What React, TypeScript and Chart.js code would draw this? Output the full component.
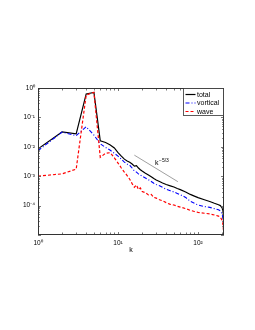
import React, { useEffect, useRef } from 'react';
import { Chart, registerables } from 'chart.js';

Chart.register(...registerables);

const kValues = [1, 2, 3, 4, 5, 6, 7, 8, 9, 10, 11, 12, 13, 14, 15, 16, 17, 18, 19, 20, 22, 24, 26, 28, 30, 33, 36, 40, 45, 50, 55, 60, 70, 80, 90, 100, 120, 140, 160, 180, 190, 200, 205, 208, 211];

const totalValues = [8.5e-3, 3.2e-2, 2.75e-2, 0.63, 0.71, 1.6e-2, 1.4e-2, 1.15e-2, 9.1e-3, 6.3e-3, 4.8e-3, 3.8e-3, 3.3e-3, 3.0e-3, 2.6e-3, 2.2e-3, 2.3e-3, 1.9e-3, 1.66e-3, 1.5e-3, 1.26e-3, 1.1e-3, 9.5e-4, 8.3e-4, 7.4e-4, 6.6e-4, 5.9e-4, 5.2e-4, 4.7e-4, 4.3e-4, 3.8e-4, 3.5e-4, 2.9e-4, 2.4e-4, 2.1e-4, 1.86e-4, 1.58e-4, 1.38e-4, 1.2e-4, 1.07e-4, 1.0e-4, 8.3e-5, 6.3e-5, 4.5e-5, 2.5e-5];

const vorticalValues = [7.4e-3, 3.16e-2, 2.4e-2, 4.8e-2, 2.5e-2, 1.26e-2, 9.5e-3, 7.6e-3, 6.0e-3, 4.8e-3, 3.8e-3, 3.0e-3, 2.6e-3, 2.35e-3, 1.9e-3, 1.5e-3, 1.38e-3, 1.2e-3, 1.1e-3, 1.0e-3, 8.7e-4, 7.6e-4, 6.6e-4, 5.75e-4, 5.2e-4, 4.7e-4, 4.2e-4, 3.6e-4, 3.2e-4, 2.9e-4, 2.6e-4, 2.35e-4, 1.9e-4, 1.4e-4, 1.2e-4, 1.05e-4, 9.3e-5, 8.7e-5, 7.9e-5, 7.2e-5, 6.6e-5, 5.2e-5, 3.5e-5, 2.5e-5, 1.4e-5];

const waveValues = [1.0e-3, 1.2e-3, 1.74e-3, 0.575, 0.71, 4.4e-3, 6.0e-3, 6.3e-3, 4.2e-3, 2.8e-3, 1.9e-3, 1.38e-3, 1.05e-3, 7.9e-4, 5.6e-4, 4.2e-4, 5.0e-4, 3.5e-4, 4.0e-4, 3.0e-4, 2.75e-4, 2.3e-4, 2.4e-4, 1.9e-4, 1.8e-4, 1.58e-4, 1.45e-4, 1.26e-4, 1.1e-4, 1.05e-4, 9.5e-5, 8.9e-5, 7.9e-5, 6.9e-5, 6.3e-5, 5.9e-5, 5.5e-5, 5.2e-5, 4.8e-5, 4.4e-5, 4.0e-5, 3.2e-5, 2.2e-5, 1.4e-5, 1.0e-5];

const refK = [16, 56];
const refValues = [5.2e-3, 6.5e-4];
const refLabelK = 29;
const refLabelValue = 2.4e-3;
const refLabelBase = 'k';
const refLabelExp = '\u22125/3';

const xMin = 1;
const xMax = 211;
const yMin = 1e-5;
const yMax = 1;
const xMajorTicks = [1, 10, 100];
const yMajorTicks = [1, 1e-1, 1e-2, 1e-3, 1e-4, 1e-5];
const yLabelledTicks = [1, 1e-1, 1e-2, 1e-3, 1e-4];
const xLabel = 'k';
const legendLabels = ['total', 'vortical', 'wave'];

const SUP: Record<string, string> = {
  '-': '\u207B', '0': '\u2070', '1': '\u00B9', '2': '\u00B2', '3': '\u00B3',
  '4': '\u2074', '5': '\u2075', '6': '\u2076', '7': '\u2077', '8': '\u2078', '9': '\u2079',
};

const FONT = "'Liberation Sans', Arial, Helvetica, sans-serif";

function powLabel(v: number): string {
  const e = Math.round(Math.log10(v));
  return '10' + String(e).split('').map((c) => SUP[c] || c).join('');
}

const styles = [
  { color: '#000000', dash: [] as number[], width: 1.2 },
  { color: '#0000ff', dash: [4, 2, 1, 2], width: 1.1 },
  { color: '#ff0000', dash: [3, 2], width: 1.2 },
];

const framePlugin = {
  id: 'matlabFrame',
  afterDatasetsDraw(chart: any) {
    const ctx = chart.ctx as CanvasRenderingContext2D;
    const { left, right, top, bottom } = chart.chartArea;
    const xs = chart.scales.x;
    const ys = chart.scales.y;
    ctx.save();

    // reference slope label
    const lx = xs.getPixelForValue(refLabelK);
    const ly = ys.getPixelForValue(refLabelValue);
    ctx.fillStyle = '#000';
    ctx.textAlign = 'left';
    ctx.textBaseline = 'alphabetic';
    ctx.font = `7px ${FONT}`;
    ctx.fillText(refLabelBase, lx, ly);
    const w = ctx.measureText(refLabelBase).width;
    ctx.font = `5px ${FONT}`;
    ctx.fillText(refLabelExp, lx + w + 0.5, ly - 3);

    // ticks
    ctx.strokeStyle = '#555';
    ctx.lineWidth = 0.8;
    const tl = 2.5;
    ctx.beginPath();
    for (let d = 0; d <= 2; d++) {
      for (let m = 1; m <= 9; m++) {
        const v = m * Math.pow(10, d);
        if (v < xMin || v > xMax) continue;
        const px = Math.round(xs.getPixelForValue(v)) + 0.5;
        const len = m === 1 ? tl + 0.5 : tl;
        ctx.moveTo(px, bottom);
        ctx.lineTo(px, bottom - len);
        ctx.moveTo(px, top);
        ctx.lineTo(px, top + len);
      }
    }
    for (let d = -5; d <= 0; d++) {
      for (let m = 1; m <= 9; m++) {
        const v = m * Math.pow(10, d);
        if (v < yMin * 0.999 || v > yMax * 1.001) continue;
        const py = Math.round(ys.getPixelForValue(v)) + 0.5;
        const len = m === 1 ? tl + 0.5 : 1.8;
        ctx.moveTo(left, py);
        ctx.lineTo(left + len, py);
        ctx.moveTo(right, py);
        ctx.lineTo(right - len, py);
      }
    }
    ctx.stroke();

    // box
    ctx.strokeStyle = '#333';
    ctx.lineWidth = 1;
    ctx.strokeRect(Math.round(left) + 0.5, Math.round(top) + 0.5, Math.round(right - left) - 1, Math.round(bottom - top) - 1);

    // legend
    const bx = 183.5;
    const by = 88.5;
    const bw = 40;
    const bh = 27;
    ctx.fillStyle = '#fff';
    ctx.fillRect(bx, by, bw, bh);
    ctx.strokeStyle = '#333';
    ctx.lineWidth = 0.8;
    ctx.strokeRect(bx, by, bw, bh);
    ctx.font = `7px ${FONT}`;
    ctx.textBaseline = 'middle';
    legendLabels.forEach((label, i) => {
      const y = by + 6 + i * 8.5;
      const s = styles[i];
      ctx.strokeStyle = s.color;
      ctx.lineWidth = s.width;
      ctx.setLineDash(s.dash);
      ctx.beginPath();
      ctx.moveTo(bx + 2, y);
      ctx.lineTo(bx + 12, y);
      ctx.stroke();
      ctx.setLineDash([]);
      ctx.fillStyle = '#000';
      ctx.fillText(label, bx + 13.5, y + 0.5);
    });
    ctx.restore();
  },
};

export default function App() {
  const ref = useRef<HTMLCanvasElement | null>(null);
  useEffect(() => {
    if (!ref.current) return;
    const mk = (vals: number[]) => kValues.map((k, i) => ({ x: k, y: vals[i] }));
    const chart = new Chart(ref.current, {
      type: 'line',
      data: {
        datasets: [
          { label: legendLabels[0], data: mk(totalValues), borderColor: styles[0].color, borderDash: styles[0].dash, borderWidth: styles[0].width, pointRadius: 0, tension: 0, order: 3 },
          { label: legendLabels[1], data: mk(vorticalValues), borderColor: styles[1].color, borderDash: styles[1].dash, borderWidth: styles[1].width, pointRadius: 0, tension: 0, order: 2 },
          { label: legendLabels[2], data: mk(waveValues), borderColor: styles[2].color, borderDash: styles[2].dash, borderWidth: styles[2].width, pointRadius: 0, tension: 0, order: 1 },
          { label: 'ref', data: refK.map((k, i) => ({ x: k, y: refValues[i] })), borderColor: '#777', borderWidth: 0.7, pointRadius: 0, tension: 0, order: 4 },
        ],
      },
      options: {
        animation: false,
        responsive: false,
        events: [],
        layout: { padding: { left: 0, top: 88, right: 31, bottom: 76 } },
        plugins: { legend: { display: false }, tooltip: { enabled: false }, title: { display: false } },
        scales: {
          x: {
            type: 'logarithmic',
            min: xMin,
            max: xMax,
            grid: { display: false, drawTicks: false },
            border: { display: false },
            afterBuildTicks: (s: any) => { s.ticks = xMajorTicks.map((v) => ({ value: v })); },
            afterFit: (s: any) => { s.height = 19; },
            ticks: {
              autoSkip: false,
              maxRotation: 0,
              padding: 4,
              color: '#000',
              font: { family: FONT, size: 6.5 },
              callback: (v: any) => powLabel(Number(v)),
            },
            title: { display: true, text: xLabel, padding: 0, color: '#000', font: { family: FONT, size: 7 } },
          },
          y: {
            type: 'logarithmic',
            min: yMin,
            max: yMax,
            grid: { display: false, drawTicks: false },
            border: { display: false },
            afterBuildTicks: (s: any) => { s.ticks = yMajorTicks.map((v) => ({ value: v })); },
            afterFit: (s: any) => { s.width = 38; },
            ticks: {
              autoSkip: false,
              padding: 3,
              color: '#000',
              font: { family: FONT, size: 6.5 },
              callback: (v: any) => {
                const n = Number(v);
                return yLabelledTicks.some((t) => Math.abs(Math.log10(t) - Math.log10(n)) < 1e-6) ? powLabel(n) : '';
              },
            },
          },
        },
      },
      plugins: [framePlugin],
    });
    return () => chart.destroy();
  }, []);
  return (
    <div style={{ position: 'fixed', left: 0, top: 0, width: 255, height: 330, background: '#fff' }}>
      <canvas ref={ref} width={255} height={330} style={{ display: 'block' }} />
    </div>
  );
}
